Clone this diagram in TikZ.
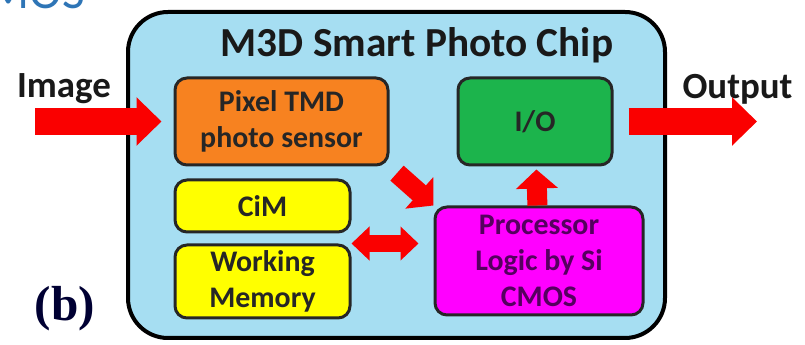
\documentclass[tikz,border=0pt]{standalone}
\usepackage{fontspec}
\setmainfont{Carlito}
\newfontfamily\serifb{Liberation Serif}
\usetikzlibrary{arrows.meta, positioning}
\definecolor{chipblue}{RGB}{166,222,242}
\definecolor{sensororange}{RGB}{247,130,32}
\definecolor{iogreen}{RGB}{28,180,76}
\definecolor{memyellow}{RGB}{255,255,0}
\definecolor{procmagenta}{RGB}{255,0,255}
\definecolor{proctext}{RGB}{85,0,95}
\definecolor{arrowred}{RGB}{250,0,0}
\definecolor{capblue}{RGB}{46,117,182}
\tikzstyle{block} = [rectangle, rounded corners=0.24cm, draw=black!85, line width=0.06cm, align=center, inner sep=0pt, font=\fontsize{17}{20.5}\selectfont\bfseries, text=black!85]
\tikzstyle{sensor} = [block, fill=sensororange, minimum width=4.26cm, minimum height=1.74cm]
\tikzstyle{inout} = [block, fill=iogreen, minimum width=3.08cm, minimum height=1.74cm]
\tikzstyle{memory} = [block, fill=memyellow, minimum width=3.5cm]
\tikzstyle{logic} = [block, fill=procmagenta, minimum width=4.16cm, minimum height=2.16cm, text=proctext]
\tikzstyle{label} = [font=\fontsize{21}{24}\selectfont\bfseries, text=black!90]
\tikzstyle{bigarrow} = [draw=arrowred, line width=0.54cm, -{Triangle[length=0.5cm 0, width=0.94cm 0]}]
\tikzstyle{arrow} = [draw=arrowred, line width=0.4cm, -{Triangle[length=0.38cm 0, width=0.82cm 0]}]
\tikzstyle{dblarrow} = [draw=arrowred, line width=0.34cm, {Triangle[length=0.36cm 0, width=0.66cm 0]}-{Triangle[length=0.36cm 0, width=0.66cm 0]}]

\begin{document}
\begin{tikzpicture}
		\clip (0,0) rectangle (16.1,6.9);
		% cut-off caption of the figure above
		\node (prev) [anchor=base east, inner sep=0pt, font=\fontsize{28}{30}\selectfont, text=capblue] at (1.70,6.72) {CMOS};
		
		\draw [fill=chipblue, line width=0.08cm, rounded corners=0.8cm] (2.56,0.14) rectangle (13.30,6.66);
		\node (title) [font=\fontsize{23.5}{26}\selectfont\bfseries, text=black!90] at (8.34,6.0) {M3D Smart Photo Chip};
		
		\node (sensor) [sensor] at (5.63,4.47) {Pixel TMD\\photo sensor};
		\node (io) [inout] at (10.70,4.47) {I/O};
		\node (cim) [memory, minimum height=1.04cm] at (5.25,2.78) {CiM};
		\node (mem) [memory, minimum height=1.46cm, below=0.2cm of cim] {Working\\Memory};
		\node (proc) [logic] at (10.78,1.68) {Processor\\Logic by Si\\CMOS};
		
		\node (imglabel) [label] at (1.28,5.12) {Image};
		\node (outlabel) [label] at (14.75,5.12) {Output};
		\coordinate (imgin) at (0.70,4.47);
		\coordinate (outend) at (15.14,4.47);
		
		\draw [bigarrow, shorten >=0.24cm] (imgin) -- (sensor);
		\draw [bigarrow, shorten <=0.3cm] (io) -- (outend);
		\draw [arrow, shorten <=0.2cm] (sensor.south east) -- (proc.north west);
		\draw [arrow, shorten >=0.06cm] (proc) -- (io);
		\draw [dblarrow, shorten >=0.3cm] (mem.north east) -- (mem.north east -| proc.west);
		
		\node (tag) [font=\serifb\bfseries\fontsize{28}{30}\selectfont, text=black!80!blue] at (1.30,0.72) {(b)};
			
\end{tikzpicture}
\end{document}
